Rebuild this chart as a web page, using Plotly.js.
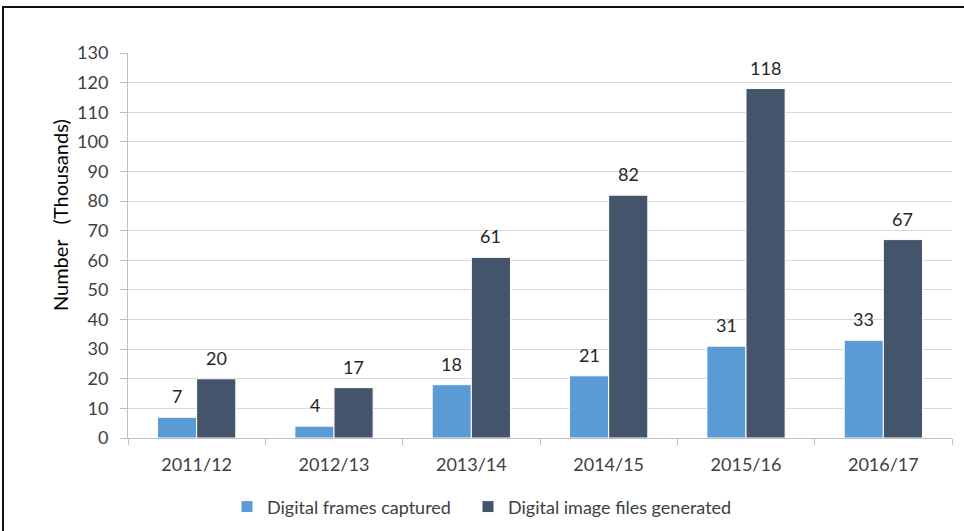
<!DOCTYPE html>
<html>
<head>
<meta charset="utf-8">
<script src="https://cdn.plot.ly/plotly-3.0.1.min.js"></script>
<style>
  html, body { margin: 0; padding: 0; background: #fff; overflow: hidden; }
  #wrap { position: relative; width: 964px; height: 531px; }
  #frame { position: absolute; left: 2px; top: 6px; width: 1000px; height: 600px;
           border-top: 2px solid #111; border-left: 2px solid #111; pointer-events: none; }
  #chart { position: absolute; left: 0; top: 0; width: 964px; height: 531px; }
</style>
</head>
<body>
<div id="wrap">
  <div id="chart"></div>
  <div id="frame"></div>
</div>
<script>
// Financial years
const years = ['2011/12', '2012/13', '2013/14', '2014/15', '2015/16', '2016/17'];
// Values in thousands
const framesCaptured = [7, 4, 18, 21, 31, 33];
const filesGenerated = [20, 17, 61, 82, 118, 67];
const seriesNames = ['Digital frames captured', 'Digital image files generated'];
const yTitle = 'Number\u00a0\u00a0\u00a0(Thousands)';

const FONT = 'Lato, "Open Sans", sans-serif';
const TEXT = '#404040';
const FS = 18;

const traces = [
  {
    type: 'bar', name: seriesNames[0], x: years, y: framesCaptured,
    marker: { color: '#5B9BD5', line: { color: '#ffffff', width: 1 } },
    legend: 'legend', hoverinfo: 'skip'
  },
  {
    type: 'bar', name: seriesNames[1], x: years, y: filesGenerated,
    marker: { color: '#44546A', line: { color: '#ffffff', width: 1 } },
    legend: 'legend2', hoverinfo: 'skip'
  }
];

// value labels above each bar
const labels = [];
[framesCaptured, filesGenerated].forEach((vals, s) => {
  vals.forEach((v, i) => {
    labels.push({
      x: years[i], y: v, xref: 'x', yref: 'y',
      text: String(v), showarrow: false,
      xshift: s === 0 ? -19.5 : 19.5, yshift: 8,
      yanchor: 'bottom', xanchor: 'center',
      font: { family: FONT, size: FS, color: '#262626' }
    });
  });
});
labels.push({
  text: yTitle, xref: 'paper', yref: 'paper',
  x: -68 / 824, y: 0.579, xanchor: 'center', yanchor: 'middle',
  textangle: -90, showarrow: false,
  font: { family: FONT, size: 20, color: '#000' }
});

const legendBase = {
  orientation: 'h', xanchor: 'left', y: -0.179, yanchor: 'middle',
  bgcolor: 'rgba(0,0,0,0)',
  font: { family: FONT, size: FS, color: TEXT }, itemclick: false
};

const layout = {
  width: 964, height: 531,
  margin: { l: 128, r: 12, t: 53, b: 93, autoexpand: false },
  paper_bgcolor: '#fff', plot_bgcolor: '#fff',
  barmode: 'group', bargap: 0.43, bargroupgap: 0,
  font: { family: FONT, size: FS, color: TEXT },
  showlegend: true,
  legend: Object.assign({}, legendBase, { x: 99 / 824 }),
  legend2: Object.assign({}, legendBase, { x: 340 / 824 }),
  xaxis: {
    type: 'category', showgrid: false, showline: true, linecolor: '#BFBFBF', linewidth: 1,
    ticks: 'outside', tickson: 'boundaries', ticklen: 6, tickcolor: '#BFBFBF',
    ticklabelstandoff: 10, tickfont: { family: FONT, size: FS, color: TEXT },
    zeroline: false, automargin: false
  },
  yaxis: {
    range: [0, 130], dtick: 10, tick0: 0,
    showgrid: true, gridcolor: '#D9D9D9', gridwidth: 1,
    showline: true, linecolor: '#BFBFBF', linewidth: 1,
    ticks: 'outside', ticklen: 7, tickcolor: '#BFBFBF',
    ticklabelstandoff: 8, tickfont: { family: FONT, size: FS, color: TEXT },
    zeroline: false, automargin: false
  },
  annotations: labels
};

Plotly.newPlot('chart', traces, layout, { staticPlot: true, displayModeBar: false });
</script>
</body>
</html>
